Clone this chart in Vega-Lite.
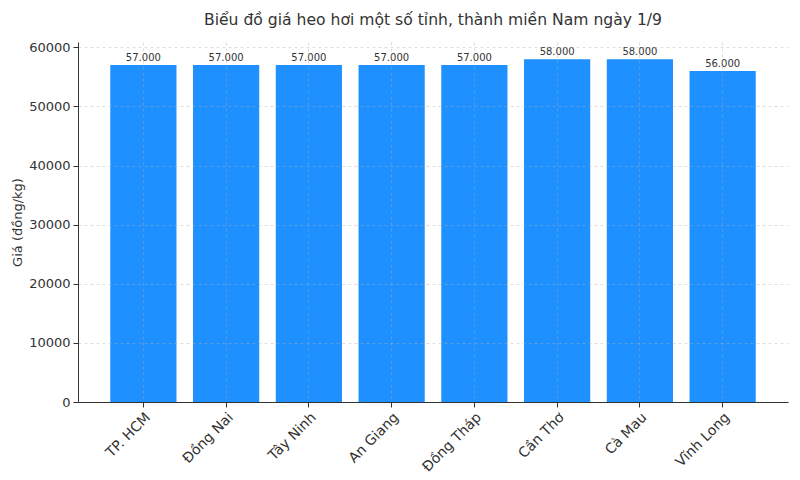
{
  "$schema": "https://vega.github.io/schema/vega-lite/v6.json",
  "autosize": {"type": "none"},
  "padding": {"left": 78, "top": 42, "right": 12, "bottom": 78},
  "width": 710,
  "height": 360,
  "background": "white",
  "title": {
    "text": "Biểu đồ giá heo hơi một số tỉnh, thành miền Nam ngày 1/9",
    "font": "DejaVu Sans",
    "fontSize": 15.6,
    "fontWeight": "normal",
    "color": "#333333",
    "offset": 13
  },
  "data": {
    "values": [
      {"tinh": "TP. HCM", "gia": 57000},
      {"tinh": "Đồng Nai", "gia": 57000},
      {"tinh": "Tây Ninh", "gia": 57000},
      {"tinh": "An Giang", "gia": 57000},
      {"tinh": "Đồng Tháp", "gia": 57000},
      {"tinh": "Cần Thơ", "gia": 58000},
      {"tinh": "Cà Mau", "gia": 58000},
      {"tinh": "Vĩnh Long", "gia": 56000}
    ]
  },
  "encoding": {
    "x": {
      "field": "tinh",
      "type": "nominal",
      "sort": null,
      "title": null,
      "scale": {"paddingInner": 0.2, "paddingOuter": 0.39},
      "axis": {
        "bandPosition": 0.5,
        "labelAngle": -45,
        "labelAlign": "right",
        "labelBaseline": "top",
        "labelFontSize": 14,
        "labelPadding": 3,
        "tickSize": 5,
        "grid": true,
        "zindex": 1
      }
    },
    "y": {
      "field": "gia",
      "type": "quantitative",
      "title": "Giá (đồng/kg)",
      "scale": {"domain": [0, 60900], "nice": false},
      "axis": {
        "values": [0, 10000, 20000, 30000, 40000, 50000, 60000],
        "format": "d",
        "labelFontSize": 13,
        "labelPadding": 3,
        "tickSize": 5,
        "titleFontSize": 13,
        "titleFontWeight": "normal",
        "titlePadding": 4,
        "grid": true,
        "zindex": 1
      }
    }
  },
  "layer": [
    {
      "mark": {"type": "bar", "color": "#1E90FF"}
    },
    {
      "mark": {
        "type": "text",
        "baseline": "bottom",
        "dy": -2,
        "font": "DejaVu Sans",
        "fontSize": 10,
        "color": "#333333"
      },
      "encoding": {
        "text": {"field": "gia", "type": "quantitative", "format": ",d"}
      }
    }
  ],
  "config": {
    "locale": {
      "number": {
        "decimal": ",",
        "thousands": ".",
        "grouping": [3],
        "currency": ["", " ₫"]
      }
    },
    "view": {"stroke": null},
    "font": "DejaVu Sans",
    "axis": {
      "labelFont": "DejaVu Sans",
      "titleFont": "DejaVu Sans",
      "labelColor": "#333333",
      "titleColor": "#333333",
      "domainColor": "#333333",
      "tickColor": "#333333",
      "gridColor": "#b0b0b0",
      "gridDash": [3, 3],
      "gridWidth": 0.7,
      "gridOpacity": 0.6
    }
  }
}
